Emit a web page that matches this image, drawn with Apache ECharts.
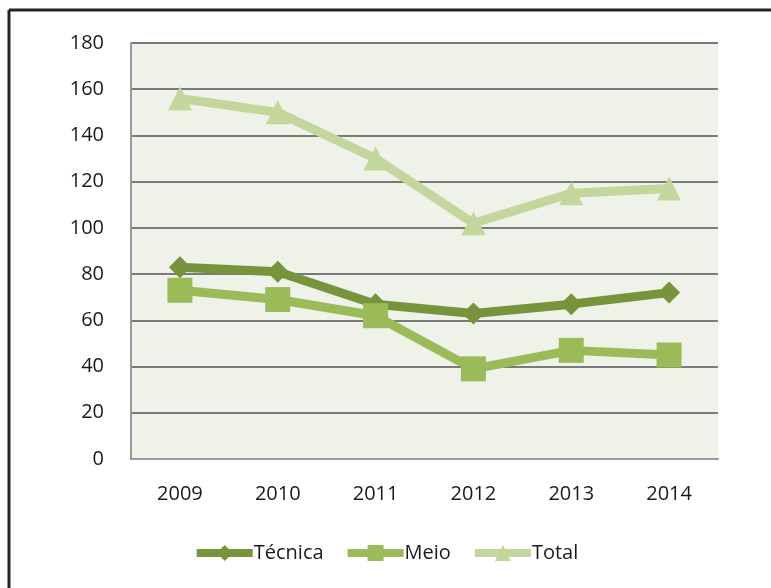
<!DOCTYPE html>
<html>
<head>
<meta charset="utf-8">
<script src="https://cdn.jsdelivr.net/npm/echarts@6/dist/echarts.min.js"></script>
<style>
html, body { margin: 0; padding: 0; background: #fff; }
#chart { width: 771px; height: 588px; }
</style>
</head>
<body>
<div id="chart"></div>
<script>
const years = ['2009', '2010', '2011', '2012', '2013', '2014'];
const tecnica = [83, 81, 67, 63, 67, 72];
const meio = [73, 69, 62, 39, 47, 45];
const total = [156, 150, 130, 102, 115, 117];

const chart = echarts.init(document.getElementById('chart'));
const font = 'Open Sans';

function line(name, data, color, symbol, size) {
    return {
        name: name,
        type: 'line',
        data: data,
        symbol: symbol,
        symbolSize: size,
        showAllSymbol: true,
        lineStyle: { color: color, width: 9 },
        itemStyle: { color: color },
        z: 3
    };
}

chart.setOption({
    animation: false,
    backgroundColor: '#fff',
    graphic: [
        { type: 'line', shape: { x1: 9, y1: 10, x2: 771, y2: 10 }, style: { stroke: '#222', lineWidth: 3 } },
        { type: 'line', shape: { x1: 9, y1: 10, x2: 9, y2: 588 }, style: { stroke: '#222', lineWidth: 3 } }
    ],
    grid: {
        left: 131, top: 43, width: 587, height: 416,
        show: true, backgroundColor: '#eef2e8', borderWidth: 0
    },
    legend: {
        top: 538,
        left: 'center',
        itemWidth: 56,
        itemHeight: 20,
        itemGap: 20,
        lineStyle: { width: 8 },
        textStyle: { fontFamily: font, fontSize: 20, color: '#1a1a1a', padding: [0, 0, 0, -4] },
        data: ['Técnica', 'Meio', 'Total']
    },
    xAxis: {
        type: 'category',
        data: years,
        boundaryGap: true,
        axisLine: { lineStyle: { color: '#999', width: 2 } },
        axisTick: { show: false },
        axisLabel: { fontFamily: font, fontSize: 20, color: '#1a1a1a', margin: 25 }
    },
    yAxis: {
        type: 'value',
        min: 0, max: 180, interval: 20,
        axisLine: { show: true, lineStyle: { color: '#999', width: 2 } },
        axisTick: { show: false },
        splitLine: { lineStyle: { color: '#7a7a7a', width: 2 } },
        axisLabel: { fontFamily: font, fontSize: 20, color: '#1a1a1a', margin: 27 }
    },
    series: [
        line('Técnica', tecnica, '#77933c', 'diamond', 22),
        line('Meio', meio, '#9bbb59', 'rect', 25),
        line('Total', total, '#c3d69b', 'triangle', 24)
    ]
});
</script>
</body>
</html>
